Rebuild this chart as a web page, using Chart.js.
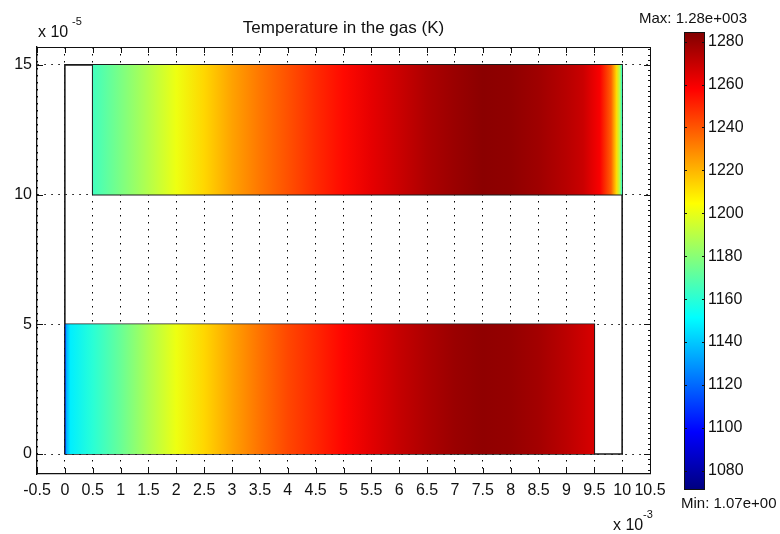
<!DOCTYPE html>
<html><head><meta charset="utf-8">
<script src="https://cdn.jsdelivr.net/npm/chart.js@4"></script>
<style>html,body{margin:0;padding:0;background:#fff}#wrap{width:780px;height:534px;position:relative}</style>
</head><body><div id="wrap"><canvas id="c" width="780" height="534"></canvas></div>
<script>
// ---- data (x in 1e-3, y in 1e-5, temperature in K) ----
const xTicks = [-0.5,0,0.5,1,1.5,2,2.5,3,3.5,4,4.5,5,5.5,6,6.5,7,7.5,8,8.5,9,9.5,10,10.5];
const yTicks = [0,5,10,15];
const cbTicks = [1080,1100,1120,1140,1160,1180,1200,1220,1240,1260,1280];
const tMin = 1071.5, tMax = 1284.5;

const domainX = [0,10], domainY = [0,15];
const upperX = [0.5,10], upperY = [10,15];
const lowerX = [0,9.5], lowerY = [0,5];

const upperPosX = [0.5,1.0,1.5,2.0,2.5,3.0,3.5,4.0,4.5,5.0,5.5,6.0,6.5,7.0,7.5,8.0,8.5,9.0,9.3,9.6,9.8,9.9,9.96,10.0];
const upperTemp = [1165,1177,1189,1201,1213,1224,1233,1241,1249,1256,1263,1269,1275,1279,1282,1281,1278,1273,1269,1259,1238,1212,1188,1158];
const lowerPosX = [0,0.03,0.1,0.5,1.0,1.5,2.0,2.5,3.0,3.5,4.0,4.5,5.0,5.5,6.0,6.5,7.0,7.5,8.0,8.5,9.0,9.5];
const lowerTemp = [1082,1135,1148,1160,1173,1188,1201,1213,1224,1234,1243,1250,1257,1264,1270,1275,1279,1281,1280,1277,1272,1266];

// ---- helpers ----
function jet(T){
  let t=(T-tMin)/(tMax-tMin); t=Math.max(0,Math.min(1,t));
  const c=v=>Math.round(255*Math.max(0,Math.min(1,v)));
  return `rgb(${c(1.5-Math.abs(4*t-3))},${c(1.5-Math.abs(4*t-2))},${c(1.5-Math.abs(4*t-1))})`;
}
function gradientFor(posX, temps){
  return (ctx)=>{
    const chart=ctx.chart; if(!chart.chartArea) return 'rgba(0,0,0,0)';
    const xs=chart.scales.x;
    const p0=xs.getPixelForValue(posX[0]), p1=xs.getPixelForValue(posX[posX.length-1]);
    const g=chart.ctx.createLinearGradient(p0,0,p1,0);
    posX.forEach((v,i)=>{ g.addColorStop((xs.getPixelForValue(v)-p0)/(p1-p0), jet(temps[i])); });
    return g;
  };
}
function rectPts(X,Y){ return [{x:X[0],y:Y[0]},{x:X[1],y:Y[0]},{x:X[1],y:Y[1]},{x:X[0],y:Y[1]},{x:X[0],y:Y[0]}]; }
const outline = [...rectPts(domainX,domainY),{x:null,y:null},...rectPts(upperX,upperY),{x:null,y:null},...rectPts(lowerX,lowerY)];

const FONT='"Liberation Sans", Arial, Helvetica, sans-serif';
const INK='#111';

const decor = {
  id:'decor',
  afterDraw(chart){
    const {ctx, chartArea:a, scales:{x,y}} = chart;
    ctx.save();
    ctx.strokeStyle=INK; ctx.lineWidth=1;
    // box top/right
    ctx.beginPath();
    ctx.moveTo(Math.round(a.left), Math.round(a.top)+0.5); ctx.lineTo(Math.round(a.right)+1, Math.round(a.top)+0.5);
    ctx.moveTo(Math.round(a.right)+0.5, Math.round(a.top)); ctx.lineTo(Math.round(a.right)+0.5, Math.round(a.bottom));
    ctx.stroke();
    // inward ticks
    ctx.beginPath();
    xTicks.forEach(v=>{ const px=Math.round(x.getPixelForValue(v))+0.5;
      ctx.moveTo(px,a.bottom); ctx.lineTo(px,a.bottom-6);
      ctx.moveTo(px,a.top); ctx.lineTo(px,a.top+6); });
    yTicks.forEach(v=>{ const py=Math.round(y.getPixelForValue(v))+0.5;
      ctx.moveTo(a.left,py); ctx.lineTo(a.left+6,py);
      ctx.moveTo(a.right,py); ctx.lineTo(a.right-6,py); });
    for(let k=-3;k<=78;k++){ const v=k*0.2; if(v<y.min||v>y.max) continue;
      const py=Math.round(y.getPixelForValue(v))+0.5;
      ctx.moveTo(a.right,py); ctx.lineTo(a.right-2,py); }
    ctx.stroke();

    // colorbar
    const cbL=684, cbR=704, cbT=32, cbB=489;
    const g=ctx.createLinearGradient(0,cbB,0,cbT);
    [[0,'rgb(0,0,128)'],[0.125,'rgb(0,0,255)'],[0.375,'rgb(0,255,255)'],[0.625,'rgb(255,255,0)'],[0.875,'rgb(255,0,0)'],[1,'rgb(128,0,0)']]
      .forEach(s=>g.addColorStop(s[0],s[1]));
    ctx.fillStyle=g; ctx.fillRect(cbL,cbT,cbR-cbL,cbB-cbT);
    ctx.strokeRect(cbL+0.5,cbT+0.5,cbR-cbL,cbB-cbT);
    const cbY=v=>cbB-(v-tMin)/(tMax-tMin)*(cbB-cbT);
    ctx.beginPath();
    cbTicks.forEach(v=>{ const py=Math.round(cbY(v))+0.5;
      ctx.moveTo(cbL,py); ctx.lineTo(cbL+3,py); ctx.moveTo(cbR+1,py); ctx.lineTo(cbR-2,py); });
    ctx.stroke();
    ctx.fillStyle=INK; ctx.textBaseline='middle'; ctx.textAlign='left';
    ctx.font='16px '+FONT;
    cbTicks.forEach(v=>ctx.fillText(String(v), 708, cbY(v)));

    // texts
    ctx.textBaseline='alphabetic';
    ctx.font='15px '+FONT;
    ctx.fillText('Max: 1.28e+003', 639, 23);
    ctx.fillText('Min: 1.07e+00', 681, 508);
    ctx.textAlign='center'; ctx.font='17px '+FONT;
    ctx.fillText('Temperature in the gas (K)', (a.left+a.right)/2, 33);
    ctx.textAlign='left';
    ctx.font='16px '+FONT; ctx.fillText('x 10', 38, 37);
    ctx.font='11px '+FONT; ctx.fillText('-5', 72, 25);
    ctx.font='16px '+FONT; ctx.fillText('x 10', 613, 530);
    ctx.font='11px '+FONT; ctx.fillText('-3', 643, 518);
    ctx.restore();
  }
};

new Chart(document.getElementById('c'), {
  type:'scatter',
  data:{ datasets:[
    { label:'upper', data:[{x:upperX[0],y:upperY[1]},{x:upperX[1],y:upperY[1]}], showLine:true, fill:{value:upperY[0]},
      backgroundColor:gradientFor(upperPosX,upperTemp), borderColor:'rgba(0,0,0,0)', borderWidth:0, pointRadius:0 },
    { label:'lower', data:[{x:lowerX[0],y:lowerY[1]},{x:lowerX[1],y:lowerY[1]}], showLine:true, fill:{value:lowerY[0]},
      backgroundColor:gradientFor(lowerPosX,lowerTemp), borderColor:'rgba(0,0,0,0)', borderWidth:0, pointRadius:0 },
    { label:'outline', data:outline, showLine:true, spanGaps:false, fill:false, borderColor:'#1a1a1a', borderWidth:1.6, pointRadius:0, tension:0 }
  ]},
  options:{
    responsive:false, animation:false, devicePixelRatio:1,
    layout:{padding:{left:0,right:130,top:47,bottom:0}},
    plugins:{legend:{display:false}, title:{display:false}, tooltip:{enabled:false}},
    scales:{
      x:{ type:'linear', min:-0.5, max:10.5,
        afterBuildTicks:s=>{ s.ticks = xTicks.map(v=>({value:v})); },
        afterFit:s=>{ s.height=60; },
        ticks:{ autoSkip:false, maxRotation:0, minRotation:0, padding:7, color:INK, font:{family:FONT,size:16}, callback:v=>String(v) },
        grid:{ color:'#000', lineWidth:1, drawTicks:false },
        border:{ display:true, color:INK, width:1.3, dash:[1.5,5.5] } },
      y:{ type:'linear', min:-0.77, max:15.69,
        afterBuildTicks:s=>{ s.ticks = yTicks.map(v=>({value:v})); },
        afterFit:s=>{ s.width=37; },
        ticks:{ padding:5, color:INK, font:{family:FONT,size:16}, callback:v=>String(v) },
        grid:{ color:'#000', lineWidth:1, drawTicks:false },
        border:{ display:true, color:INK, width:1.3, dash:[1.5,5.5] } }
    }
  },
  plugins:[decor]
});
</script></body></html>
